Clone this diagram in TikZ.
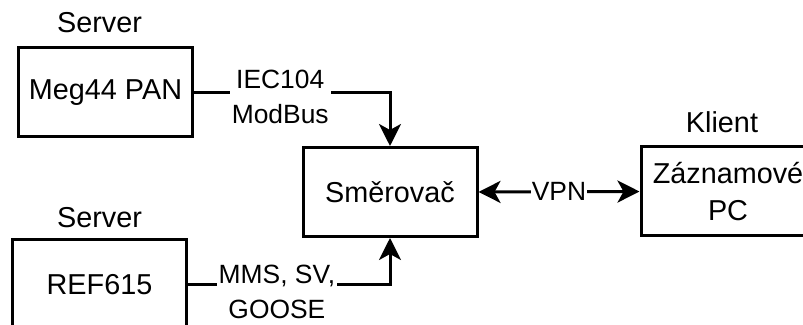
\documentclass[tikz,border=0pt]{standalone}
\usepackage{fontspec}
\setmainfont{Liberation Sans}
\usetikzlibrary{arrows.meta,positioning}

\begin{document}
\begin{tikzpicture}[
  x=0.5pt, y=-0.5pt,
  box/.style={rectangle, draw=black, line width=1.5pt, minimum width=87pt,
              minimum height=44.5pt, align=center, inner sep=1pt,
              font=\fontsize{14.4}{18.5}\selectfont},
  tag/.style={inner sep=0pt, font=\fontsize{14.4}{18.5}\selectfont},
  lbl/.style={fill=white, align=center, inner sep=1pt,
              font=\fontsize{13.2}{17.5}\selectfont},
  arr/.style={-{Stealth[length=11pt, width=11pt, inset=3pt]}, line width=1.5pt},
  biarr/.style={{Stealth[length=11pt, width=11pt, inset=3pt]}-{Stealth[length=11pt, width=11pt, inset=3pt]}, line width=1.5pt}
]
\useasboundingbox (0,0) rectangle (803,325);

\node[box] (router) at (390,192)   {Směrovač};
\node[box] (meg)    at (105.5,92.5) {Meg44 PAN};
\node[box] (ref)    at (99.5,284.5) {REF615};
\node[box] (klient) at (728,191.5)  {Záznamové\\PC};

\node[tag, above=6.5pt of meg, xshift=-3pt] (srvA) {Server};
\node[tag, above=5pt of ref]               (srvB) {Server};
\node[tag, above=6pt of klient, xshift=-3pt] (cli) {Klient};

\draw[arr] (meg.east) -| node[lbl, pos=0.22, yshift=-2pt] {IEC104\\ModBus} (router.north);
\draw[arr] (ref.east) -| node[lbl, pos=0.22, yshift=-3.5pt] {MMS, SV,\\GOOSE} (router.south);
\draw[biarr] (router.east) -- node[lbl, inner sep=0.5pt] {VPN} (klient.west);

\end{tikzpicture}
\end{document}
